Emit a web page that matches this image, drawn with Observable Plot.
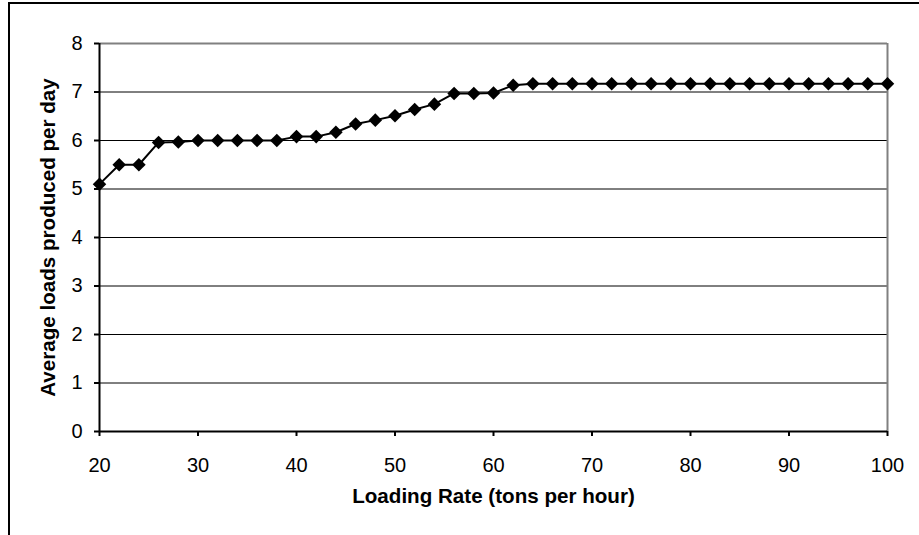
<!DOCTYPE html>
<html>
<head>
<meta charset="utf-8">
<script src="https://cdn.jsdelivr.net/npm/d3@7"></script>
<script src="https://cdn.jsdelivr.net/npm/@observablehq/plot@0.6"></script>
<style>
  html, body { margin: 0; padding: 0; background: #fff; }
  #wrap { position: relative; width: 919px; height: 535px; overflow: hidden; }
  #frame { position: absolute; left: 8px; top: 2px; width: 1000px; height: 1000px;
           border-left: 2px solid #000; border-top: 2px solid #000; pointer-events: none; }
  #chart { position: absolute; left: 0; top: 0; }
</style>
</head>
<body>
<div id="wrap"><div id="chart"></div><div id="frame"></div></div>
<script>
const loadingRate = [20,22,24,26,28,30,32,34,36,38,40,42,44,46,48,50,52,54,56,58,60,
                     62,64,66,68,70,72,74,76,78,80,82,84,86,88,90,92,94,96,98,100];
const avgLoads = [5.10,5.50,5.50,5.96,5.97,6.00,6.00,6.00,6.00,6.00,6.08,6.08,6.17,6.34,6.42,
                  6.51,6.64,6.75,6.97,6.97,6.98,7.14,7.17,7.17,7.17,7.17,7.17,7.17,7.17,7.17,
                  7.17,7.17,7.17,7.17,7.17,7.17,7.17,7.17,7.17,7.17,7.17];
const xTicks = [20,30,40,50,60,70,80,90,100];
const yTicks = [0,1,2,3,4,5,6,7,8];
const xTitle = "Loading Rate (tons per hour)";
const yTitle = "Average loads produced per day";

const data = loadingRate.map((x, i) => ({x, y: avgLoads[i]}));
const font = "'Liberation Sans', Arial, sans-serif";

const chart = Plot.plot({
  width: 919,
  height: 535,
  marginLeft: 99,
  marginRight: 32,
  marginTop: 43,
  marginBottom: 104,
  style: {fontFamily: font, fontSize: "20px", color: "#000", background: "transparent"},
  x: {domain: [20, 100]},
  y: {domain: [0, 8]},
  marks: [
    Plot.gridY(yTicks.slice(1, -1), {stroke: "#000", strokeOpacity: 1, strokeWidth: 1}),
    Plot.ruleY([8], {stroke: "#808080", strokeWidth: 2}),
    Plot.ruleX([100], {stroke: "#808080", strokeWidth: 2}),
    Plot.axisX(xTicks, {tickSize: 5, tickPadding: 21, label: null, stroke: "#000", strokeWidth: 2, fontSize: 20}),
    Plot.axisY(yTicks, {tickSize: 5, tickPadding: 12, label: null, stroke: "#000", strokeWidth: 2, fontSize: 20}),
    Plot.ruleX([20], {stroke: "#000", strokeWidth: 2}),
    Plot.ruleY([0], {stroke: "#000", strokeWidth: 2}),
    Plot.line(data, {x: "x", y: "y", stroke: "#000", strokeWidth: 2}),
    Plot.dot(data, {x: "x", y: "y", symbol: "diamond2", r: 6.1, fill: "#000", stroke: "none"}),
    Plot.text([xTitle], {text: d => d, frameAnchor: "bottom", dy: 71, fontWeight: "bold", fontSize: 20.6}),
    Plot.text([yTitle], {text: d => d, frameAnchor: "left", textAnchor: "middle", dx: -51, rotate: -90, fontWeight: "bold", fontSize: 20.6})
  ]
});
document.getElementById("chart").appendChild(chart);
</script>
</body>
</html>
